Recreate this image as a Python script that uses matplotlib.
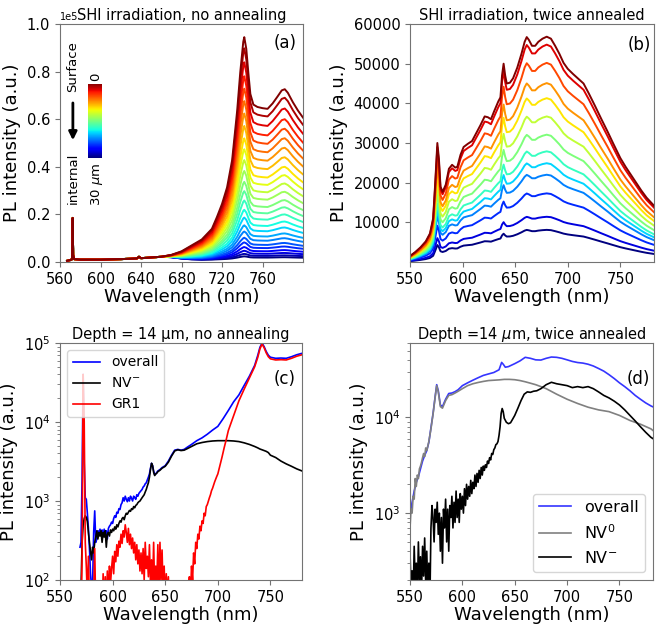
import numpy as np
import matplotlib
matplotlib.use("Agg")
import matplotlib.pyplot as plt

plt.rcParams['font.family'] = ['DejaVu Sans']
plt.rcParams['font.size'] = 10.5

# ---- panel (a): SHI irradiation, no annealing (units of 1e5) ----
wl_a = [567, 570, 572, 572.5, 573, 574, 580, 600, 620, 636, 638, 640, 660, 670,
        680, 690, 700, 710, 715, 720, 725, 730, 735, 738, 741, 742, 744, 746,
        748, 751, 755, 760, 765, 770, 775, 779, 782, 785, 790, 795, 800]
top_a = [0.005, 0.008, 0.012, 0.185, 0.03, 0.012, 0.01, 0.01, 0.012, 0.015, 0.022,
         0.016, 0.022, 0.03, 0.045, 0.07, 0.095, 0.14, 0.19, 0.245, 0.315, 0.43,
         0.64, 0.80, 0.93, 0.95, 0.90, 0.80, 0.71, 0.665, 0.655, 0.65, 0.647,
         0.67, 0.70, 0.725, 0.73, 0.715, 0.675, 0.64, 0.61]
base_a = [0.005, 0.008, 0.012, 0.185, 0.03, 0.012, 0.01, 0.01, 0.012, 0.015, 0.022,
          0.016, 0.022, 0.02, 0.014, 0.01, 0.008, 0.008, 0.008, 0.008, 0.008, 0.008,
          0.008, 0.008, 0.008, 0.008, 0.008, 0.008, 0.008, 0.008, 0.008, 0.008, 0.008,
          0.008, 0.008, 0.008, 0.008, 0.008, 0.008, 0.008, 0.008]
# height of the 782 nm band for each depth, surface first
band_a = [0.726, 0.69, 0.645, 0.60, 0.56, 0.52, 0.48, 0.44, 0.40, 0.365, 0.33,
          0.295, 0.26, 0.23, 0.20, 0.17, 0.145, 0.12, 0.10, 0.08, 0.065, 0.05,
          0.038, 0.028, 0.02]

# ---- panel (b): SHI irradiation, twice annealed ----
wl_b = [550, 555, 560, 565, 569, 572, 574, 576, 577.5, 579, 581, 584, 587, 590,
        593, 595, 598, 601, 605, 609, 613, 617, 621, 624, 627, 630, 634, 636,
        637.5, 639, 640.5, 642, 645, 648, 652, 656, 659, 661, 663, 666, 669, 672,
        676, 680, 684, 688, 692, 696, 700, 705, 710, 715, 720, 726, 732, 738,
        743, 750, 755, 760, 765, 770, 775, 782]
top_b = [1500, 2500, 3700, 5200, 7200, 11000, 20000, 30000, 26000, 19000, 17700,
         19500, 23500, 24500, 23800, 24000, 27000, 29000, 29800, 30500, 32500,
         34500, 36700, 36500, 36000, 38000, 40500, 41500, 47000, 50000, 47000,
         45000, 45200, 46300, 49000, 52500, 55500, 56700, 56000, 54500, 54500,
         55500, 56300, 56800, 56300, 54500, 52500, 50200, 48700, 47400, 46200,
         45000, 42500, 39300, 36000, 32800, 30000, 26200, 24000, 22000, 20000,
         18000, 16200, 14200]
# level of each curve at 680 nm, surface first
level_b = [56800, 54800, 50200, 45100, 41300, 36700, 32100, 27900, 24900, 22000,
           17300, 11400, 8100]

# ---- panel (c): depth 14 um, no annealing ----
wl_c_fine = np.arange(569, 646)
overall_c_fine = [260, 300, 2000, 40000, 3000, 1100, 1050, 700, 450, 250,
                  120, 80, 90, 400, 750, 300, 330, 420, 380, 440,
                  400, 430, 370, 440, 390, 420, 330, 450, 480, 500,
                  540, 520, 600, 650, 620, 720, 700, 800, 780, 900,
                  950, 1100, 1000, 1150, 1050, 980, 1100, 1000, 1150, 1080,
                  1000, 1150, 1100, 1050, 1200, 1150, 1250, 1300, 1350, 1400,
                  1500, 1550, 1650, 1700, 1850, 2000, 2200, 2600, 3000, 2800,
                  2400, 2150, 2200, 2300, 2400, 2450, 2500]
nvm_c_fine = [60, 80, 300, 500, 600, 650, 620, 550, 400, 300,
              230, 180, 260, 220, 300, 350, 420, 330, 400, 360,
              420, 300, 400, 350, 420, 260, 380, 400, 360, 430,
              400, 440, 420, 470, 440, 500, 470, 520, 560, 540,
              600, 620, 580, 650, 700, 680, 720, 760, 740, 800,
              780, 850, 820, 880, 900, 950, 980, 1000, 1050, 1100,
              1150, 1200, 1300, 1400, 1550, 1700, 2000, 2500, 3000, 2800,
              2300, 2100, 2200, 2250, 2350, 2400, 2450]
wl_c_coarse = [647, 650, 653, 656, 659, 662, 665, 668, 671, 675, 680, 685, 690,
               695, 700, 705, 710, 715, 720, 725, 730, 735, 738, 740, 742, 744,
               746, 748, 750, 755, 760, 765, 770, 775, 780]
overall_c_coarse = [2650, 2800, 3200, 3800, 4400, 4500, 4400, 4500, 4800, 5200,
                    5800, 6300, 7000, 7900, 8800, 11000, 14000, 18000, 22000,
                    29000, 38000, 52000, 70000, 88000, 100000, 90000, 78000,
                    70000, 66000, 64000, 64500, 64000, 67000, 71000, 74000]
nvm_c_coarse = [2600, 2750, 3100, 3700, 4300, 4450, 4350, 4400, 4600, 4900, 5300,
                5500, 5650, 5750, 5800, 5800, 5800, 5750, 5650, 5450, 5200, 4900,
                4700, 4550, 4450, 4350, 4250, 4100, 3800, 3550, 3200, 2950, 2750,
                2550, 2400]
wl_gr1_fine = np.arange(569, 701)
gr1_c_fine = [30, 30, 200, 40000, 10000, 300, 150, 60, 200, 50,
              40, 30, 40, 60, 250, 40, 30, 50, 40, 60,
              30, 40, 120, 50, 110, 40, 130, 60, 150, 90,
              140, 200, 120, 230, 170, 280, 200, 310, 260, 380,
              290, 420, 350, 500, 400, 300, 450, 280, 380, 250,
              340, 220, 300, 180, 280, 160, 240, 130, 220, 120,
              250, 100, 300, 140, 200, 110, 280, 90, 180, 80,
              300, 70, 150, 90, 280, 60, 300, 100, 240, 70,
              150, 50, 120, 60, 110, 40, 90, 50, 70, 40,
              60, 30, 40, 30, 50, 30, 40, 30, 40, 30,
              30, 40, 30, 80, 110, 60, 150, 100, 220, 160,
              300, 250, 380, 330, 480, 420, 560, 520, 700, 650,
              850, 900, 1000, 1100, 1200, 1350, 1450, 1600, 1750, 1900,
              2050, 2200]
wl_gr1_coarse = [702, 704, 706, 708, 710, 715, 720, 725, 730, 735, 738, 740, 742,
                 744, 746, 748, 750, 755, 760, 765, 770, 775, 780]
gr1_c_coarse = [2800, 3600, 4700, 6000, 7800, 12000, 18500, 26000, 36000, 50000,
                66000, 84000, 97000, 87000, 75000, 67000, 63000, 61000, 61500,
                61000, 64000, 68000, 71000]

# ---- panel (d): depth 14 um, twice annealed ----
wl_d_overall = [550, 552, 554, 556, 558, 560, 562, 564, 566, 568, 570, 572, 574,
                575.5, 577, 579, 581, 584, 587, 590, 593, 596, 600, 605, 610, 615,
                620, 625, 630, 635, 637.5, 639, 641, 644, 650, 655, 660, 665, 670,
                675, 680, 685, 690, 695, 700, 705, 710, 715, 720, 725, 730, 735,
                740, 745, 750, 755, 760, 765, 770, 775, 780, 782]
overall_d = [950, 1300, 1700, 2100, 2400, 2900, 3500, 4000, 4500, 5500, 7800,
             11000, 16500, 22000, 19000, 13500, 13000, 15500, 17800, 18000, 18600,
             19500, 21500, 23000, 24500, 26000, 27500, 28500, 29500, 31500, 37600,
             36000, 33500, 34000, 36500, 39000, 42500, 41500, 40000, 39800, 41500,
             42800, 42500, 41500, 40000, 38500, 37500, 37000, 36000, 34500, 32500,
             30500, 28000, 25500, 23000, 21000, 19000, 17000, 15500, 14200, 13200,
             12900]
wl_d_nv0 = [550, 551, 552, 553, 554, 555, 556, 557, 558, 559, 560, 561, 562, 563,
            564, 565, 566, 568, 570, 572, 574, 575.5, 577, 579, 581, 584, 587, 590,
            593, 596, 600, 605, 610, 615, 620, 625, 630, 635, 640, 645, 650, 655,
            660, 665, 670, 675, 680, 690, 700, 710, 720, 730, 740, 750, 760, 770,
            780, 782]
nv0_d = [700, 1100, 1000, 1500, 1400, 2300, 1900, 2500, 2300, 2900, 3100, 3400,
         3800, 4200, 3900, 4800, 4500, 5600, 7600, 10800, 16200, 21500, 18500,
         13000, 12500, 15000, 17000, 17300, 18000, 18800, 20000, 21500, 22500,
         23200, 23800, 24300, 24500, 24700, 25000, 25000, 24800, 24300, 23600,
         22800, 22000, 21000, 20000, 17500, 15500, 14000, 12800, 12000, 11500,
         10500, 9300, 8500, 7600, 7300]
wl_d_fine = np.arange(550, 641)
nvm_d_fine = [400, 150, 250, 120, 450, 180, 300, 130, 500, 200,
              350, 150, 450, 220, 550, 180, 400, 150, 300, 120,
              700, 1200, 900, 500, 1100, 800, 1300, 600, 1000, 400,
              900, 300, 1100, 700, 1400, 500, 1100, 400, 1200, 900,
              1500, 700, 1300, 800, 1700, 900, 1400, 800, 1600, 1100,
              1500, 1000, 1800, 1200, 2000, 1400, 1900, 1500, 2200, 1600,
              2100, 1800, 2500, 1900, 2600, 2100, 2800, 2300, 3000, 2500,
              3100, 2800, 3200, 3000, 3500, 3300, 3800, 3600, 4200, 4100,
              4600, 4800, 5200, 5300, 5600, 6500, 8000, 11000, 12400, 11500,
              9800]
wl_d_coarse = [642, 644, 646, 648, 650, 653, 656, 659, 662, 665, 668, 671, 675,
               680, 685, 690, 695, 700, 705, 710, 715, 720, 725, 730, 735, 740,
               745, 750, 755, 760, 765, 770, 775, 780, 782]
nvm_d_coarse = [8900, 8600, 8800, 9600, 10500, 12500, 15000, 17500, 18500, 18300,
                18800, 19000, 20000, 22000, 23300, 22500, 22000, 21500, 20500,
                21000, 20500, 21000, 20000, 18500, 17000, 16000, 14800, 13500,
                12000, 10500, 9200, 8000, 7000, 6200, 6000]

W, H = 664, 628
fig = plt.figure(figsize=(W / 100, H / 100), dpi=100)


def box(left, top, right, bottom):
    return [left / W, 1 - bottom / H, (right - left) / W, (bottom - top) / H]


ax_a = fig.add_axes(box(60, 24, 303, 262))
ax_b = fig.add_axes(box(410, 24, 654, 262))
ax_c = fig.add_axes(box(60, 343, 302, 580))
ax_d = fig.add_axes(box(410, 343, 653, 580))
cmap = plt.cm.jet

# (a)
top = np.array(top_a)
base = np.array(base_a)
j = wl_a.index(782)
n = len(band_a)
for k in reversed(range(n)):
    s = (band_a[k] - base[j]) / (top[j] - base[j])
    ax_a.plot(wl_a, (base + s * (top - base)) * 1e5, color=cmap(1 - k / (n - 1)), lw=1.4)
ax_a.set_xlim(560, 800)
ax_a.set_ylim(0, 1e5)
ax_a.set_xticks([560, 600, 640, 680, 720, 760])
ax_a.set_yticks(np.arange(0, 1.01e5, 0.2e5))
ax_a.ticklabel_format(axis='y', style='sci', scilimits=(0, 0))
ax_a.yaxis.get_offset_text().set_fontsize(7)
ax_a.set_title('SHI irradiation, no annealing', fontsize=10.5, pad=3, y=1.0)
ax_a.text(0.975, 0.96, '(a)', transform=ax_a.transAxes, ha='right', va='top', fontsize=12)

# depth colour bar inside (a)
cax = fig.add_axes(box(88, 84, 102, 158))
cax.imshow(np.linspace(0, 1, 100)[:, None], cmap=cmap, aspect='auto', origin='lower')
cax.set_xticks([])
cax.set_yticks([])
for sp in cax.spines.values():
    sp.set_visible(False)
ax_a.text(0.148, 0.78, '0', transform=ax_a.transAxes, rotation=90, ha='center', va='center', fontsize=9.5)
ax_a.text(0.151, 0.328, '30 $\\mu$m', transform=ax_a.transAxes, rotation=90, ha='center', va='center', fontsize=9.5)
ax_a.text(0.053, 0.82, 'Surface', transform=ax_a.transAxes, rotation=90, ha='center', va='center', fontsize=9.5)
ax_a.text(0.053, 0.353, 'internal', transform=ax_a.transAxes, rotation=90, ha='center', va='center', fontsize=9.5)
ax_a.annotate('', xy=(0.053, 0.50), xytext=(0.053, 0.68), xycoords='axes fraction',
              arrowprops=dict(arrowstyle='-|>', color='k', lw=2, mutation_scale=12))

# (b)
topb = np.array(top_b, dtype=float)
ref = topb[wl_b.index(680)]
m = len(level_b)
for k in reversed(range(m)):
    ax_b.plot(wl_b, topb * level_b[k] / ref, color=cmap(1 - k / (m - 1)), lw=1.4)
ax_b.set_xlim(550, 782)
ax_b.set_ylim(0, 60000)
ax_b.set_yticks(np.arange(10000, 60001, 10000))
ax_b.set_xticks([550, 600, 650, 700, 750])
ax_b.set_title('SHI irradiation, twice annealed', fontsize=10.5, pad=3, y=1.0)
ax_b.text(0.988, 0.95, '(b)', transform=ax_b.transAxes, ha='right', va='top', fontsize=12)

# (c)
ax_c.plot(np.concatenate([wl_c_fine, wl_c_coarse]), overall_c_fine + overall_c_coarse,
          color='b', lw=1.2, label='overall')
ax_c.plot(np.concatenate([wl_c_fine, wl_c_coarse]), nvm_c_fine + nvm_c_coarse,
          color='k', lw=1.2, label='NV$^{-}$')
ax_c.plot(np.concatenate([wl_gr1_fine, wl_gr1_coarse]), gr1_c_fine + gr1_c_coarse,
          color='r', lw=1.2, label='GR1')
ax_c.set_yscale('log')
ax_c.set_xlim(550, 780)
ax_c.set_ylim(1e2, 1e5)
ax_c.set_xticks([550, 600, 650, 700, 750])
ax_c.set_title('Depth = 14 µm, no annealing', fontsize=10.5, pad=3, y=1.0)
ax_c.legend(loc='upper left', fontsize=10)
ax_c.text(0.975, 0.886, '(c)', transform=ax_c.transAxes, ha='right', va='top', fontsize=12)

# (d)
ax_d.plot(wl_d_overall, overall_d, color='#3535ff', lw=1.2, label='overall')
ax_d.plot(wl_d_nv0, nv0_d, color='gray', lw=1.2, label='NV$^0$')
ax_d.plot(np.concatenate([wl_d_fine, wl_d_coarse]), nvm_d_fine + nvm_d_coarse,
          color='k', lw=1.2, label='NV$^{-}$')
ax_d.set_yscale('log')
ax_d.set_xlim(550, 782)
ax_d.set_ylim(200, 6e4)
ax_d.set_xticks([550, 600, 650, 700, 750])
ax_d.set_title('Depth =14 $\\mu$m, twice annealed', fontsize=10.5, pad=3, y=1.0)
ax_d.legend(loc='lower right', fontsize=11.5)
ax_d.text(0.988, 0.886, '(d)', transform=ax_d.transAxes, ha='right', va='top', fontsize=12)

for ax in (ax_a, ax_b, ax_c, ax_d):
    ax.set_xlabel('Wavelength (nm)', fontsize=13, labelpad=1)
    ax.set_ylabel('PL intensity (a.u.)', fontsize=13)
    for sp in ax.spines.values():
        sp.set_edgecolor('0.45')
    ax.tick_params(which='both', color='0.45')

fig.savefig('out.png', dpi=100)
